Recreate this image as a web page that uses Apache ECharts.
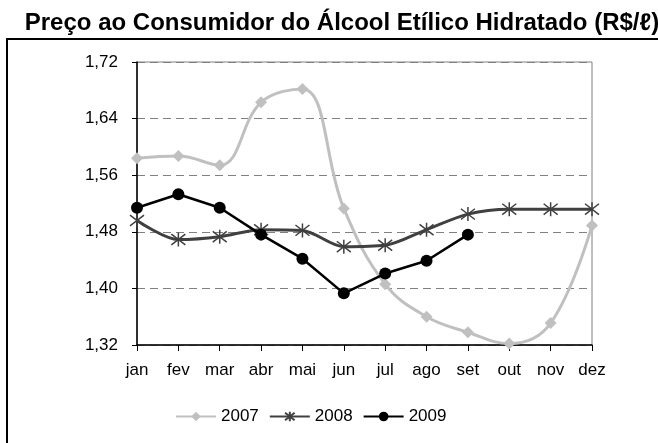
<!DOCTYPE html>
<html>
<head>
<meta charset="utf-8">
<script src="https://cdn.jsdelivr.net/npm/echarts@6/dist/echarts.min.js"></script>
<style>
	html, body { margin: 0; padding: 0; background: #fff; }
	#chart { width: 658px; height: 443px; }
</style>
</head>
<body>
<div id="chart"></div>
<script>
	var months = ['jan', 'fev', 'mar', 'abr', 'mai', 'jun', 'jul', 'ago', 'set', 'out', 'nov', 'dez'];
	var yTicks = [1.32, 1.40, 1.48, 1.56, 1.64, 1.72];
	var s2007 = [1.584, 1.587, 1.574, 1.663, 1.682, 1.513, 1.406, 1.360, 1.338, 1.322, 1.351, 1.489];
	var s2008 = [1.496, 1.469, 1.473, 1.483, 1.482, 1.459, 1.461, 1.483, 1.505, 1.512, 1.512, 1.512];
	var s2009 = [1.514, 1.533, 1.514, 1.476, 1.442, 1.393, 1.421, 1.439, 1.476];

	var font = 'Liberation Sans, Arial, sans-serif';
	//asterisco (marcador do Excel)
	var starPath = 'path://M-1,-1L1,1M-1,1L1,-1M0,-1.3L0,1.3';

	var chart = echarts.init(document.getElementById('chart'));

	var option = {
		animation: false,
		backgroundColor: '#fff',
		title: {
			text: 'Preço ao Consumidor do Álcool Etílico Hidratado (R$/ℓ)',
			left: 337,
			textAlign: 'center',
			top: 6,
			textStyle: {
				fontFamily: font,
				fontSize: 24,
				fontWeight: 'bold',
				color: '#000'
			}
		},
		graphic: [{
			type: 'rect',
			shape: { x: 7, y: 39, width: 680, height: 440 },
			style: { fill: 'none', stroke: '#000', lineWidth: 2 },
			silent: true
		}],
		legend: {
			left: 175,
			top: 408,
			padding: 0,
			itemGap: 10,
			itemWidth: 40,
			itemHeight: 12,
			textStyle: { fontFamily: font, fontSize: 17, color: '#000' },
			data: ['2007', '2008', '2009']
		},
		grid: {
			left: 137,
			right: 66,
			top: 62,
			bottom: 98,
			show: true,
			borderColor: '#808080',
			borderWidth: 1
		},
		xAxis: {
			type: 'category',
			data: months,
			boundaryGap: false,
			axisLine: { lineStyle: { color: '#000', width: 1.5 } },
			axisTick: { show: true, length: 6, alignWithLabel: true, lineStyle: { color: '#000' } },
			axisLabel: { fontFamily: font, fontSize: 17, color: '#000', margin: 17 },
			splitLine: { show: false }
		},
		yAxis: {
			type: 'value',
			min: yTicks[0],
			max: yTicks[yTicks.length - 1],
			interval: 0.08,
			axisLine: { show: true, lineStyle: { color: '#000', width: 1.5 } },
			axisTick: { show: true, length: 5, lineStyle: { color: '#000' } },
			axisLabel: {
				fontFamily: font,
				fontSize: 17,
				color: '#000',
				margin: 19,
				formatter: function(v) {
					return v.toFixed(2).replace('.', ',');
				}
			},
			splitLine: { show: true, lineStyle: { color: '#808080', type: [8, 5], width: 1 } }
		},
		series: [{
			name: '2007',
			type: 'line',
			data: s2007,
			smooth: 0.4,
			symbol: 'diamond',
			symbolSize: 12,
			z: 2,
			lineStyle: { color: '#c0c0c0', width: 3 },
			itemStyle: { color: '#c0c0c0' }
		}, {
			name: '2008',
			type: 'line',
			data: s2008,
			smooth: 0.3,
			symbol: starPath,
			symbolSize: 14,
			z: 3,
			lineStyle: { color: '#404040', width: 3 },
			itemStyle: { color: 'rgba(0,0,0,0)', borderColor: '#404040', borderWidth: 1.5 }
		}, {
			name: '2009',
			type: 'line',
			data: s2009,
			symbol: 'circle',
			symbolSize: 12,
			z: 4,
			lineStyle: { color: '#000', width: 2.5 },
			itemStyle: { color: '#000' }
		}]
	};

	chart.setOption(option);
</script>
</body>
</html>
